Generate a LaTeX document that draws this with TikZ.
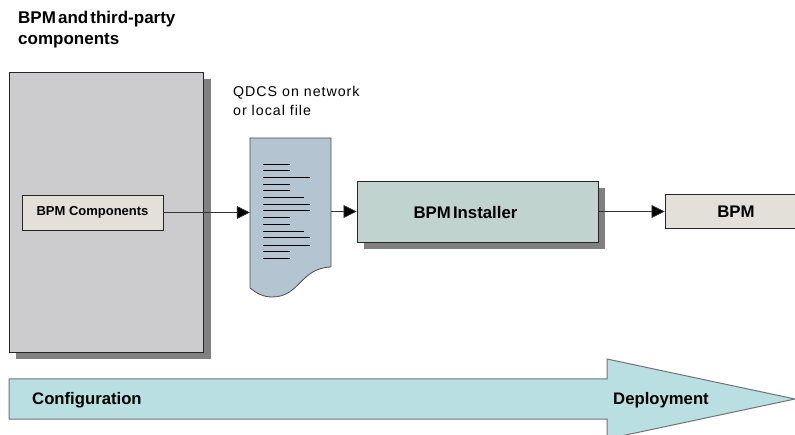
\documentclass[tikz,border=0pt]{standalone}
\usepackage{fontspec}
\setmainfont[WordSpace=0.45]{Liberation Sans}
\newfontfamily\qfont[LetterSpace=7]{Liberation Sans}
\newfontfamily\compfont[WordSpace=1]{Liberation Sans}
\definecolor{shadowgray}{RGB}{128,128,128}
\definecolor{panelgray}{RGB}{204,204,207}
\definecolor{beige}{RGB}{227,223,217}
\definecolor{docblue}{RGB}{180,196,208}
\definecolor{instgreen}{RGB}{192,211,207}
\definecolor{arrowcyan}{RGB}{185,223,227}
\usetikzlibrary{arrows.meta}
\tikzset{
  x=1pt,y=-1pt,
  boxline/.style={draw=black!85,line width=0.9pt},
  flow/.style={draw=black!80,line width=0.7pt,-{Triangle[length=13pt,width=13pt,fill=black]}},
  rule/.style={line width=1.2pt,black},
  txt/.style={inner sep=0pt,font=\bfseries},
}
\begin{document}
\begin{tikzpicture}
\useasboundingbox (0,0) rectangle (795,435);
\clip (0,0) rectangle (795,435);
% title
\node[txt,anchor=north west,align=left,font=\fontsize{17}{20.5}\selectfont\bfseries] (title) at (18,11) {BPM and third-party\\components};
% panel
\fill[shadowgray] (16,79) rectangle (211,359);
\draw[boxline,fill=panelgray] (9,72) rectangle (203,352);
\node[draw=black!85,line width=0.8pt,fill=beige,minimum width=141pt,minimum height=35pt,inner sep=0pt,font=\compfont\bfseries\fontsize{13}{15}\selectfont] (comps) at (92.5,212.5) {BPM Components};
% QDCS label
\node[inner sep=0pt,anchor=north west,align=left,font=\qfont\fontsize{14.2}{19.5}\selectfont] (qlabel) at (233,86) {QDCS on network\\or local file};
% document
\path coordinate (dtl) at (250,138) coordinate (dtr) at (331,138) coordinate (dbr) at (331,267) coordinate (dbl) at (250,288);
\node[minimum width=81pt,minimum height=159pt,inner sep=0pt] (doc) at (290.5,217.5) {};
\draw[draw=black!70,line width=0.8pt,fill=docblue] (dtl) -- (dtr) -- (dbr)
  .. controls (300,268) and (300,297) .. (272,297)
  .. controls (263,297) and (256,293) .. (dbl) -- cycle;
\foreach \yy/\xx in {164.5/290,170.5/290,177.5/310,184.5/290,190.5/290,197.5/304,204.5/310,210.5/310,217.5/290,224.5/290,231.5/304,237.5/310,245.5/310,251.5/290,258.5/290}
  \draw[rule] (263,\yy) -- (\xx,\yy);
% installer
\fill[shadowgray] (364,188) rectangle (605,249);
\node[boxline,fill=instgreen,minimum width=241pt,minimum height=61pt,inner sep=0pt] (inst) at (477.5,211.5) {};
\node[txt,font=\bfseries\fontsize{16.8}{20}\selectfont] (insttext) at (465.5,212) {BPM Installer};
% BPM
\node[boxline,fill=beige,minimum width=142pt,minimum height=34pt,inner sep=0pt] (bpm) at (736,211) {};
\node[txt,font=\bfseries\fontsize{16.8}{20}\selectfont] (bpmtext) at (736,212) {BPM};
% connectors
\draw[flow] (comps.east) -- (comps.east -| doc.west);
\draw[flow] (doc.east |- inst.west) -- (inst.west);
\draw[flow] (inst.east) -- (inst.east -| bpm.west);
% big arrow
\coordinate (atl) at (9,379);
\coordinate (atip) at (795,399);
\draw[draw=black!55,line width=1pt,fill=arrowcyan] (atl) -- (607,379) -- (607,359) -- (atip) -- (607,439) -- (607,419) -- (9,419) -- cycle;
\node[txt,font=\bfseries\fontsize{16.7}{20}\selectfont,anchor=west] (conf) at (32,400) {Configuration};
\node[txt,font=\bfseries\fontsize{16.7}{20}\selectfont,anchor=west] (depl) at (613,400) {Deployment};
\end{tikzpicture}
\end{document}
